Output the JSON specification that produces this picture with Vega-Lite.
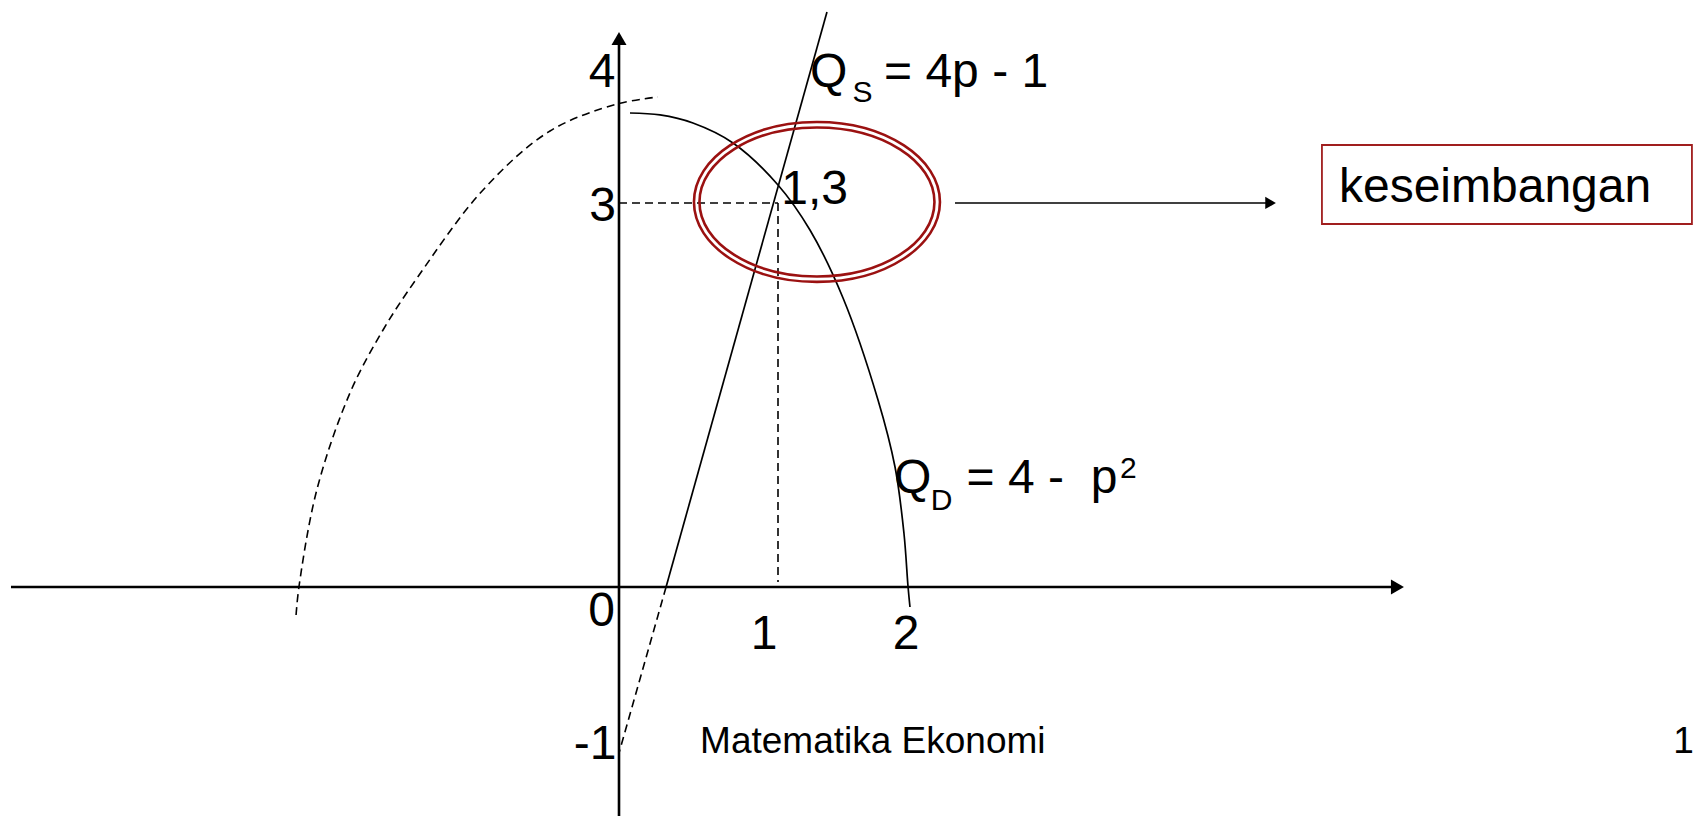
{
  "$schema": "https://vega.github.io/schema/vega-lite/v6.json",
  "width": 1696,
  "height": 816,
  "padding": 0,
  "autosize": {"type": "none"},
  "background": "white",
  "config": {"view": {"stroke": null}},
  "datasets": {
    "axes": [
      {"s": "xaxis", "i": 0, "x": -3.824, "y": 0},
      {"s": "xaxis", "i": 1, "x": 4.896, "y": 0},
      {"s": "yaxis", "i": 0, "x": 0, "y": -1.789},
      {"s": "yaxis", "i": 1, "x": 0, "y": 4.285}
    ],
    "solid": [
      {"s": "qd", "i": 0, "x": 0.069, "y": 3.703},
      {"s": "qd", "i": 1, "x": 0.258, "y": 3.688},
      {"s": "qd", "i": 2, "x": 0.465, "y": 3.625},
      {"s": "qd", "i": 3, "x": 0.717, "y": 3.469},
      {"s": "qd", "i": 4, "x": 1.0, "y": 3.141},
      {"s": "qd", "i": 5, "x": 1.201, "y": 2.789},
      {"s": "qd", "i": 6, "x": 1.409, "y": 2.258},
      {"s": "qd", "i": 7, "x": 1.629, "y": 1.461},
      {"s": "qd", "i": 8, "x": 1.736, "y": 0.9375},
      {"s": "qd", "i": 9, "x": 1.792, "y": 0.422},
      {"s": "qd", "i": 10, "x": 1.818, "y": 0},
      {"s": "qd", "i": 11, "x": 1.83, "y": -0.156},
      {"s": "qs", "i": 0, "x": 1.308, "y": 4.492},
      {"s": "qs", "i": 1, "x": 0.296, "y": 0},
      {"s": "arr", "i": 0, "x": 2.113, "y": 3.0},
      {"s": "arr", "i": 1, "x": 4.098, "y": 3.0}
    ],
    "dashed": [
      {"s": "par", "i": 0, "x": -2.031, "y": -0.219},
      {"s": "par", "i": 1, "x": -2.013, "y": 0},
      {"s": "par", "i": 2, "x": -1.899, "y": 0.766},
      {"s": "par", "i": 3, "x": -1.692, "y": 1.516},
      {"s": "par", "i": 4, "x": -1.484, "y": 2.008},
      {"s": "par", "i": 5, "x": -1.27, "y": 2.414},
      {"s": "par", "i": 6, "x": -0.855, "y": 3.102},
      {"s": "par", "i": 7, "x": -0.434, "y": 3.5625},
      {"s": "par", "i": 8, "x": -0.013, "y": 3.773},
      {"s": "par", "i": 9, "x": 0.245, "y": 3.828},
      {"s": "qsx", "i": 0, "x": 0.296, "y": 0},
      {"s": "qsx", "i": 1, "x": 0, "y": -1.297},
      {"s": "h", "i": 0, "x": 0, "y": 3},
      {"s": "h", "i": 1, "x": 1, "y": 3},
      {"s": "v", "i": 0, "x": 1, "y": 3},
      {"s": "v", "i": 1, "x": 1, "y": 0.039}
    ],
    "bigtext": [
      {"t": "Q", "x": 1.201, "y": 3.906},
      {"t": "= 4p - 1", "x": 1.667, "y": 3.906},
      {"t": "Q", "x": 1.73, "y": 0.734},
      {"t": "= 4 -", "x": 2.186, "y": 0.734},
      {"t": "p", "x": 2.967, "y": 0.734},
      {"t": "1,3", "x": 1.02, "y": 2.992},
      {"t": "keseimbangan", "x": 4.528, "y": 3.008}
    ],
    "smalltext": [
      {"t": "S", "x": 1.468, "y": 3.789},
      {"t": "D", "x": 1.96, "y": 0.602},
      {"t": "2", "x": 3.151, "y": 0.852}
    ],
    "rightlabels": [
      {"t": "4", "x": -0.022, "y": 3.906},
      {"t": "3", "x": -0.019, "y": 2.859},
      {"t": "0", "x": -0.025, "y": -0.305},
      {"t": "-1", "x": -0.016, "y": -1.344}
    ],
    "centerlabels": [
      {"t": "1", "x": 0.912, "y": -0.484},
      {"t": "2", "x": 1.805, "y": -0.484}
    ],
    "footer": [
      {"t": "Matematika Ekonomi", "x": 0.51, "y": -1.297},
      {"t": "1", "x": 6.63, "y": -1.297}
    ]
  },
  "encoding": {
    "x": {"field": "x", "type": "quantitative", "scale": {"domain": [-3.8931, 6.7736], "nice": false, "zero": false}, "axis": null},
    "y": {"field": "y", "type": "quantitative", "scale": {"domain": [-1.7891, 4.5859], "nice": false, "zero": false}, "axis": null}
  },
  "layer": [
    {
      "data": {"name": "axes"},
      "mark": {"type": "line", "color": "black", "strokeWidth": 2.6},
      "encoding": {"detail": {"field": "s"}, "order": {"field": "i"}}
    },
    {
      "data": {"name": "solid"},
      "mark": {"type": "line", "color": "black", "strokeWidth": 1.7, "interpolate": "catmull-rom"},
      "encoding": {"detail": {"field": "s"}, "order": {"field": "i"}}
    },
    {
      "data": {"name": "dashed"},
      "mark": {"type": "line", "color": "black", "strokeWidth": 1.6, "strokeDash": [8, 5], "interpolate": "catmull-rom"},
      "encoding": {"detail": {"field": "s"}, "order": {"field": "i"}}
    },
    {
      "data": {"values": [{"x": 0, "y": 4.285}]},
      "mark": {"type": "point", "shape": "triangle-up", "size": 225, "filled": true, "color": "black", "opacity": 1}
    },
    {
      "data": {"values": [{"x": 4.896, "y": 0}]},
      "mark": {"type": "point", "shape": "triangle-right", "size": 225, "filled": true, "color": "black", "opacity": 1}
    },
    {
      "data": {"values": [{"x": 4.098, "y": 3.0}]},
      "mark": {"type": "point", "shape": "triangle-right", "size": 150, "filled": true, "color": "black", "opacity": 1}
    },
    {
      "data": {"values": [{"x": 1.245, "y": 3.008}]},
      "mark": {"type": "point", "shape": "M 1 0 C 1 0.359 0.552 0.65 0 0.65 C -0.552 0.65 -1 0.359 -1 0 C -1 -0.359 -0.552 -0.65 0 -0.65 C 0.552 -0.65 1 -0.359 1 0 Z", "size": 60516, "filled": false, "stroke": "#9b1111", "strokeWidth": 2.6, "opacity": 1}
    },
    {
      "data": {"values": [{"x": 1.245, "y": 3.008}]},
      "mark": {"type": "point", "shape": "M 1 0 C 1 0.35 0.552 0.634 0 0.634 C -0.552 0.634 -1 0.35 -1 0 C -1 -0.35 -0.552 -0.634 0 -0.634 C 0.552 -0.634 1 -0.35 1 0 Z", "size": 55225, "filled": false, "stroke": "#9b1111", "strokeWidth": 2.6, "opacity": 1}
    },
    {
      "data": {"values": [{"x": 4.421, "x2": 6.748, "y": 3.453, "y2": 2.836}]},
      "mark": {"type": "rect", "fill": "white", "fillOpacity": 0, "stroke": "#a01e1e", "strokeWidth": 1.8},
      "encoding": {"x2": {"field": "x2"}, "y2": {"field": "y2"}}
    },
    {
      "data": {"name": "bigtext"},
      "mark": {"type": "text", "align": "left", "baseline": "alphabetic", "font": "Liberation Sans", "fontSize": 48, "color": "black"},
      "encoding": {"text": {"field": "t"}}
    },
    {
      "data": {"name": "smalltext"},
      "mark": {"type": "text", "align": "left", "baseline": "alphabetic", "font": "Liberation Sans", "fontSize": 30, "color": "black"},
      "encoding": {"text": {"field": "t"}}
    },
    {
      "data": {"name": "rightlabels"},
      "mark": {"type": "text", "align": "right", "baseline": "alphabetic", "font": "Liberation Sans", "fontSize": 48, "color": "black"},
      "encoding": {"text": {"field": "t"}}
    },
    {
      "data": {"name": "centerlabels"},
      "mark": {"type": "text", "align": "center", "baseline": "alphabetic", "font": "Liberation Sans", "fontSize": 48, "color": "black"},
      "encoding": {"text": {"field": "t"}}
    },
    {
      "data": {"name": "footer"},
      "mark": {"type": "text", "align": "left", "baseline": "alphabetic", "font": "Liberation Sans", "fontSize": 37, "color": "black"},
      "encoding": {"text": {"field": "t"}}
    }
  ]
}
